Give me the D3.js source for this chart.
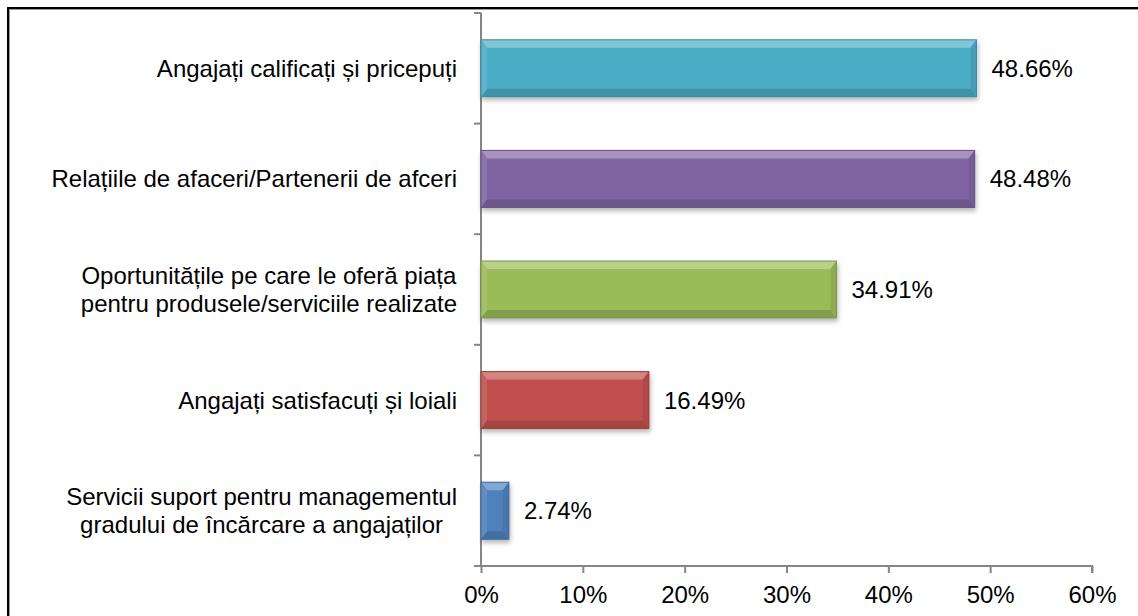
<!DOCTYPE html>
<html>
<head>
<meta charset="utf-8">
<script src="https://cdn.jsdelivr.net/npm/d3@7"></script>
<style>
  body { margin: 0; background: #fff; }
  svg { display: block; font-family: "Liberation Sans", Arial, sans-serif; }
</style>
</head>
<body>
<svg></svg>
<script>
// chart data
var categories = [
    ["Angajați calificați și pricepuți"],
    ["Relațiile de afaceri/Partenerii de afceri"],
    ["Oportunitățile pe care le oferă piața", "pentru produsele/serviciile realizate"],
    ["Angajați satisfacuți și loiali"],
    ["Servicii suport pentru managementul", "gradului de încărcare a angajaților"]
]
var values = [48.66, 48.48, 34.91, 16.49, 2.74]
var barColors = ["#4bacc6", "#8064a2", "#9bbb59", "#c0504d", "#4f81bd"]
var xTicks = [0, 10, 20, 30, 40, 50, 60]

var width = 1138, height = 616
var padLeft = 481, padRight = 1092, padTop = 13, padBottom = 566
var fontSize = 24

var svg = d3.select("svg").attr("width", width).attr("height", height)

// outer frame
svg.append("rect")
    .attr("x", 8).attr("y", 8)
    .attr("width", 1140).attr("height", 620)
    .attr("fill", "none").attr("stroke", "#000").attr("stroke-width", 2)
svg.append("rect")
    .attr("x", 9.5).attr("y", 9.5)
    .attr("width", 1140).attr("height", 620)
    .attr("fill", "none").attr("stroke", "#999").attr("stroke-width", 1)

var xScale = d3.scaleLinear().domain([0, 60]).range([padLeft, padRight])
var idx = d3.range(values.length)
var yScale = d3.scaleBand().domain(idx).range([padTop, padBottom]).paddingInner(0.485).paddingOuter(0.2425)

var defs = svg.append("defs")
var shadow = defs.append("filter").attr("id", "shadow")
    .attr("x", "-10%").attr("y", "-20%").attr("width", "130%").attr("height", "160%")
shadow.append("feGaussianBlur").attr("in", "SourceAlpha").attr("stdDeviation", 2.5)
shadow.append("feOffset").attr("dx", 1).attr("dy", 3).attr("result", "off")
shadow.append("feComponentTransfer").append("feFuncA").attr("type", "linear").attr("slope", 0.3)
var merge = shadow.append("feMerge")
merge.append("feMergeNode")
merge.append("feMergeNode").attr("in", "SourceGraphic")

// y axis
var axisColor = "#868686"
var bandEdges = idx.map(i => yScale(i) - yScale.step() * yScale.paddingInner() / 2)
bandEdges[0] = padTop
bandEdges.push(padBottom)

var g = svg.append("g")
g.append("line")
    .attr("x1", padLeft).attr("x2", padLeft).attr("y1", padTop).attr("y2", padBottom)
    .attr("stroke", axisColor).attr("stroke-width", 2)
g.selectAll(".ytick").data(bandEdges).enter().append("line")
    .attr("x1", padLeft - 7).attr("x2", padLeft)
    .attr("y1", d => d).attr("y2", d => d)
    .attr("stroke", axisColor).attr("stroke-width", 2)

// x axis
var xAxis = d3.axisBottom(xScale).tickValues(xTicks).tickSize(7).tickFormat(d => d + "%")
var xg = svg.append("g").attr("transform", "translate(0," + padBottom + ")").call(xAxis)
xg.select(".domain").attr("stroke", axisColor).attr("stroke-width", 2)
    .attr("d", "M" + padLeft + ",0H" + padRight + "V7")
xg.selectAll(".tick line").attr("stroke", axisColor).attr("stroke-width", 2)
xg.selectAll(".tick text").attr("font-size", fontSize).attr("fill", "#000").attr("y", 20).attr("dy", "0.71em")
    .attr("font-family", "Liberation Sans, Arial, sans-serif")

// bars with bevel
var bev = 8, sideBev = 6
idx.forEach(function(i) {
    var x0 = xScale(0), x1 = xScale(values[i])
    var y0 = yScale(i), y1 = y0 + yScale.bandwidth()
    var c = d3.color(barColors[i])
    var bg = svg.append("g").attr("filter", "url(#shadow)")
    bg.append("rect").attr("x", x0).attr("y", y0).attr("width", x1 - x0).attr("height", y1 - y0)
        .attr("fill", c.formatHex())
    var b = Math.min(sideBev, (x1 - x0) / 2)
    bg.append("polygon")
        .attr("points", [[x0, y0], [x1, y0], [x1 - b, y0 + bev], [x0 + b, y0 + bev]].join(" "))
        .attr("fill", d3.interpolateRgb(c, "#fff")(0.3))
    bg.append("polygon")
        .attr("points", [[x0, y1], [x1, y1], [x1 - b, y1 - bev], [x0 + b, y1 - bev]].join(" "))
        .attr("fill", c.darker(0.45).formatHex())
    bg.append("polygon")
        .attr("points", [[x1, y0], [x1, y1], [x1 - b, y1 - bev], [x1 - b, y0 + bev]].join(" "))
        .attr("fill", c.darker(0.25).formatHex())
    bg.append("polygon")
        .attr("points", [[x0, y0], [x0, y1], [x0 + b, y1 - bev], [x0 + b, y0 + bev]].join(" "))
        .attr("fill", d3.interpolateRgb(c, "#fff")(0.1))
    bg.append("rect").attr("x", x0).attr("y", y0).attr("width", x1 - x0).attr("height", y1 - y0)
        .attr("fill", "none").attr("stroke", c.darker(0.6).formatHex()).attr("stroke-width", 1)

    // value label
    svg.append("text")
        .attr("x", x1 + 15).attr("y", (y0 + y1) / 2)
        .attr("dy", "0.35em").attr("font-size", fontSize)
        .text(values[i].toFixed(2) + "%")

    // category label, lines centred, block right-aligned
    var lines = categories[i]
    var lh = 28
    var t = svg.append("text").attr("font-size", fontSize).attr("text-anchor", "middle")
    lines.forEach(function(l, k) {
        t.append("tspan").attr("x", 0)
            .attr("y", (y0 + y1) / 2 + (k - (lines.length - 1) / 2) * lh)
            .attr("dy", "0.35em").text(l)
    })
    var w = t.node().getBBox().width
    t.attr("transform", "translate(" + (457 - w / 2) + ",0)")
})
</script>
</body>
</html>
